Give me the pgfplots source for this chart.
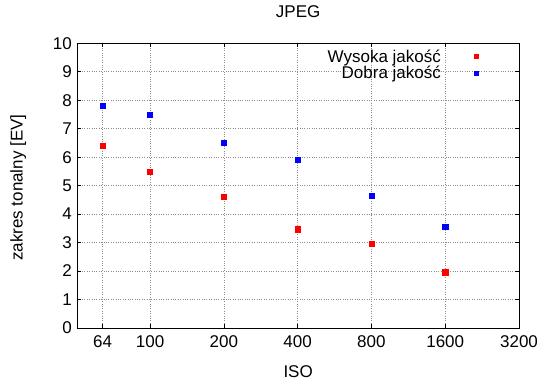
\documentclass[border=0pt]{standalone}
\usepackage{pgfplots}
\pgfplotsset{compat=1.18}
\usepackage{fontspec}
\setmainfont{Liberation Sans}
\newcommand{\gfont}{\fontsize{17bp}{20bp}\selectfont}
\begin{document}
\begin{tikzpicture}[font=\gfont]
\begin{axis}[
  name=ax,
  scale only axis,
  width=441.7bp, height=284.7bp,
  xmode=log, log basis x=2,
  xmin=50.5, xmax=3200,
  ymin=0, ymax=10,
  xtick={64,100,200,400,800,1600,3200},
  xticklabels={64,100,200,400,800,1600,3200},
  ytick={0,1,...,10},
  /pgf/number format/assume math mode=true,
  tick label style={font=\gfont},
  label style={font=\gfont},
  tick align=inside,
  major tick length=4bp,
  minor tick num=0,
  tick style={black, line width=0.6pt},
  axis line style={black, line width=0.8pt},
  grid=major,
  major grid style={black!45, dotted, line width=0.6pt},
  title={JPEG},
  title style={font=\gfont, at={(axis description cs:0.5,1)}, anchor=center, yshift=26bp},
  xlabel={ISO},
  xlabel style={at={(axis description cs:0.5,0)}, anchor=center, yshift=-43.7bp},
  xticklabel style={yshift=-4bp},
  yticklabel style={xshift=-2bp},
  legend style={draw=none, fill=none, at={(axis description cs:0.915,1.0)}, anchor=north east,
    yshift=-2bp, row sep=-1.5bp, font=\gfont},
  legend cell align=right,
  legend plot pos=right,
  legend image code/.code={\path[draw=none,fill=none] (0cm,0cm) -- (1.17cm,0cm); \draw[#1, only marks, mark size=2.2bp] plot coordinates {(1.17cm,0cm)};},
]
\addplot[only marks, mark=square*, mark size=2.6bp, color=red] coordinates {
  (64,6.4) (100,5.5) (200,4.6) (400,3.47) (800,2.95) (1600,1.96)
};
\addlegendentry{Wysoka jakość}
\addplot[only marks, mark=square*, mark size=2.6bp, color=blue] coordinates {
  (64,7.82) (100,7.5) (200,6.51) (400,5.92) (800,4.66) (1600,3.55)
};
\addlegendentry{Dobra jakość}
\end{axis}
\node[rotate=90, font=\gfont, anchor=center] at ([xshift=-59bp, yshift=-2bp]ax.west) {zakres tonalny [EV]};
\pgfresetboundingbox
\path[use as bounding box] ([shift={(-77.3bp,-61bp)}]ax.south west) rectangle ([shift={(31bp,43.3bp)}]ax.north east);
\end{tikzpicture}
\end{document}
